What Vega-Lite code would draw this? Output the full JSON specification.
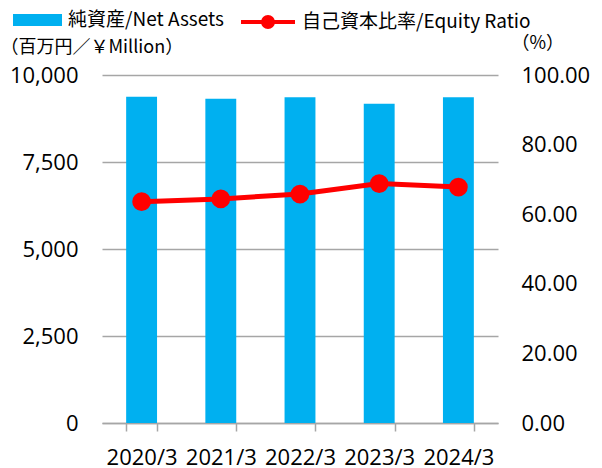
{
  "$schema": "https://vega.github.io/schema/vega-lite/v6.json",
  "autosize": "none",
  "width": 396,
  "height": 348,
  "padding": {"left": 102, "top": 75, "right": 104, "bottom": 45},
  "background": "white",
  "config": {
    "view": {"stroke": null},
    "axis": {"labelFont": "Open Sans", "labelFontSize": 22, "labelColor": "#000000", "titleFont": "Noto Sans CJK JP", "titleFontWeight": "normal", "titleColor": "#000000"},
    "legend": {"labelFont": "Noto Sans CJK JP", "labelFontSize": 19, "labelColor": "#000000", "padding": 0, "labelLimit": 400}
  },
  "data": {
    "values": [
      {"year": "2020/3", "assets": 9377, "ratio": 63.6},
      {"year": "2021/3", "assets": 9320, "ratio": 64.4},
      {"year": "2022/3", "assets": 9360, "ratio": 65.8},
      {"year": "2023/3", "assets": 9176, "ratio": 68.8},
      {"year": "2024/3", "assets": 9360, "ratio": 67.8}
    ]
  },
  "encoding": {
    "x": {
      "field": "year", "type": "nominal", "sort": null,
      "scale": {"paddingInner": 0.61, "paddingOuter": 0.305},
      "axis": {"title": null, "labelAngle": 0, "labelOverlap": false, "labelBound": false, "labelLimit": 200, "domainColor": "#a6a6a6", "domainWidth": 1.5, "tickColor": "#a6a6a6", "tickWidth": 1.5, "tickSize": 8, "tickBand": "extent", "labelPadding": 16}
    }
  },
  "layer": [
    {
      "mark": {"type": "bar"},
      "encoding": {
        "y": {
          "field": "assets", "type": "quantitative",
          "scale": {"domain": [0, 10000], "nice": false},
          "axis": {"title": "（百万円／￥Million）", "titleAngle": 0, "titleAlign": "left", "titleBaseline": "middle", "titleX": -102, "titleY": -28, "titleFontSize": 18, "values": [0, 2500, 5000, 7500, 10000], "format": ",.0f", "domain": false, "ticks": false, "labelPadding": 24, "grid": true, "gridColor": "#a6a6a6", "gridWidth": 1.5}
        },
        "color": {
          "datum": "純資産/Net Assets",
          "scale": {"range": ["#00b0f0"]},
          "legend": {"title": null, "orient": "none", "legendX": -89, "legendY": -79.5, "symbolType": "M-1,-0.245H1V0.245H-1Z", "symbolSize": 2401, "symbolStrokeWidth": 0, "labelOffset": 6}
        }
      }
    },
    {
      "mark": {"type": "line", "color": "#ff0000", "strokeWidth": 5, "point": {"filled": true, "color": "#ff0000", "size": 280}},
      "encoding": {
        "y": {
          "field": "ratio", "type": "quantitative",
          "scale": {"domain": [0, 100], "nice": false},
          "axis": {"orient": "right", "title": "（%）", "titleAngle": 0, "titleAlign": "left", "titleBaseline": "middle", "titleX": 13, "titleY": -32, "titleFontSize": 18, "values": [0, 20, 40, 60, 80, 100], "format": ".2f", "domain": false, "ticks": false, "labelPadding": 23, "grid": false}
        },
        "stroke": {
          "datum": "自己資本比率/Equity Ratio",
          "scale": {"range": ["#ff0000"]},
          "legend": {"title": null, "orient": "none", "legendX": 137, "legendY": -82, "symbolType": "M-1,0H1M0.185,0A0.185,0.185 0 1,1 -0.185,0A0.185,0.185 0 1,1 0.185,0Z", "symbolSize": 2916, "symbolStrokeWidth": 4, "symbolFillColor": "#ff0000", "symbolStrokeColor": "#ff0000", "labelOffset": 5}
        }
      }
    }
  ],
  "resolve": {"scale": {"y": "independent"}}
}
